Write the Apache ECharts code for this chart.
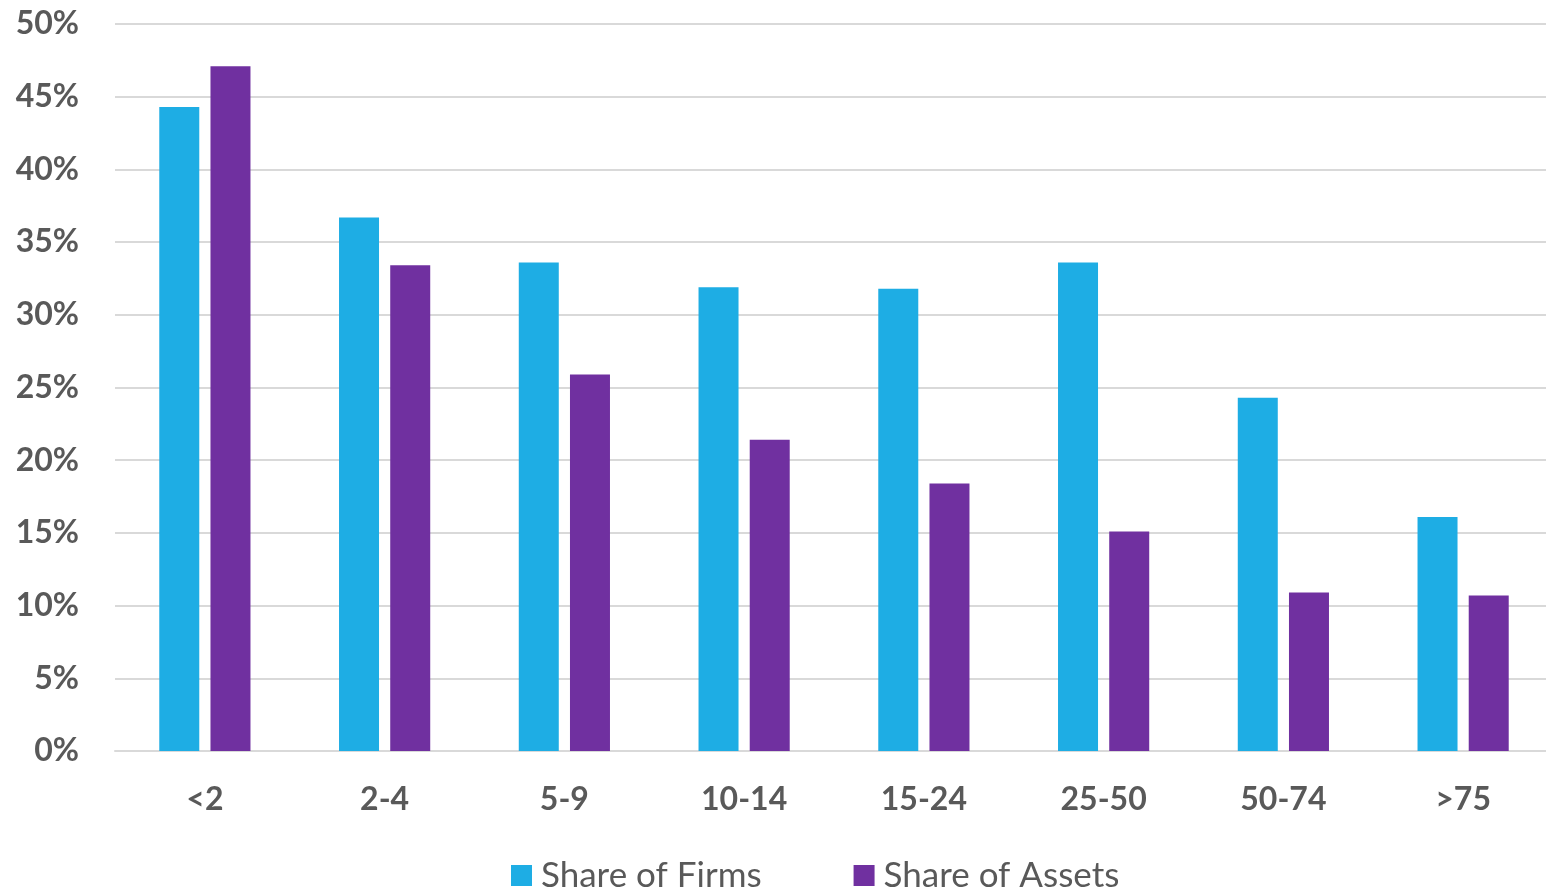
<!DOCTYPE html>
<html>
<head>
<meta charset="utf-8">
<script src="https://cdn.jsdelivr.net/npm/echarts@6/dist/echarts.min.js"></script>
<style>
  html, body { margin: 0; padding: 0; background: #ffffff; }
  #chart { width: 1546px; height: 892px; }
</style>
</head>
<body>
<div id="chart"></div>
<script>
// Firm age buckets (years)
const categories = ['<2', '2-4', '5-9', '10-14', '15-24', '25-50', '50-74', '>75'];
// Shares in percent
const shareOfFirms = [44.3, 36.7, 33.6, 31.9, 31.8, 33.6, 24.3, 16.1];
const shareOfAssets = [47.1, 33.4, 25.9, 21.4, 18.4, 15.1, 10.9, 10.7];
const seriesNames = ['Share of Firms', 'Share of Assets'];

const textColor = '#595959';
const fontFamily = 'Lato, "Liberation Sans", sans-serif';

const chart = echarts.init(document.getElementById('chart'), null, { renderer: 'canvas' });
chart.setOption({
  animation: false,
  backgroundColor: '#ffffff',
  grid: {
    left: 115, width: 1438, top: 24, height: 727,
    containLabel: false, outerBoundsMode: 'none'
  },
  legend: {
    top: 858,
    left: 511,
    padding: 0,
    itemWidth: 21,
    itemHeight: 21,
    itemGap: 92,
    icon: 'rect',
    textStyle: {
      color: textColor, fontSize: 35, fontFamily: fontFamily,
      lineHeight: 21, padding: [0, 0, 0, 4]
    },
    data: seriesNames
  },
  xAxis: {
    type: 'category',
    data: categories,
    axisLine: { show: true, lineStyle: { color: '#d9d9d9', width: 2 } },
    axisTick: { show: false },
    axisLabel: { color: textColor, fontSize: 32, fontWeight: 'bold', fontFamily: fontFamily, margin: 33 }
  },
  yAxis: {
    type: 'value',
    min: 0,
    max: 50,
    interval: 5,
    axisLine: { show: false },
    axisTick: { show: false },
    splitLine: { lineStyle: { color: '#d9d9d9', width: 2 } },
    axisLabel: {
      color: textColor, fontSize: 32, fontWeight: 'bold', fontFamily: fontFamily, margin: 36,
      formatter: v => v + '%'
    }
  },
  series: [
    {
      name: seriesNames[0],
      type: 'bar',
      data: shareOfFirms,
      barWidth: 40,
      barGap: '28%',
      itemStyle: { color: '#1eade4' }
    },
    {
      name: seriesNames[1],
      type: 'bar',
      data: shareOfAssets,
      barWidth: 40,
      barGap: '28%',
      itemStyle: { color: '#7030a0' }
    }
  ]
});
</script>
</body>
</html>
